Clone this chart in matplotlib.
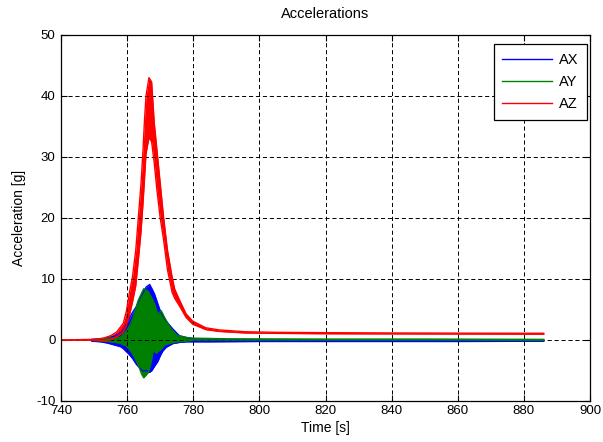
import matplotlib
matplotlib.use("Agg")
import matplotlib.pyplot as plt

plt.rcParams['font.family'] = ['Liberation Sans', 'DejaVu Sans']
plt.rcParams['lines.scale_dashes'] = False
plt.rcParams['axes.unicode_minus'] = False

# envelopes (min / max over the oscillation) of each acceleration channel
t_ax = [749.3, 752, 754, 756, 758, 758.8, 760.3, 761.6, 762.8, 763.8,
        764.8, 765.8, 766.8, 767.5, 768.3, 769.3, 770.0, 770.8, 771.8, 773.8,
        775.8, 778, 780, 785, 800, 830, 860, 886]
ax_hi = [0.1, 0.2, 0.3, 0.6, 1.1, 1.6, 3.1, 4.5, 5.5, 6.8,
         7.8, 8.7, 9.1, 8.4, 7.5, 5.9, 4.8, 4.0, 3.1, 1.8,
         0.7, 0.4, 0.2, 0.1, 0.0, -0.05, -0.05, -0.05]
ax_lo = [-0.2, -0.3, -0.5, -0.8, -1.1, -1.4, -2.2, -3.0, -4.0, -4.6,
         -5.1, -5.0, -5.3, -5.0, -4.3, -3.5, -2.6, -1.8, -1.2, -0.6,
         -0.4, -0.3, -0.3, -0.3, -0.25, -0.25, -0.25, -0.2]

t_ay = [750, 753, 755, 757.8, 759.8, 760.8, 761.8, 763.3, 764.3, 765.0,
        766.3, 766.8, 767.3, 767.8, 768.3, 768.8, 769.3, 770.3, 771.3, 773.3,
        775.3, 778, 780, 790, 820, 850, 886]
ay_hi = [0.1, 0.2, 0.3, 0.4, 1.5, 2.4, 3.7, 6.4, 7.6, 8.4,
         8.0, 7.5, 7.0, 6.5, 5.9, 5.0, 4.2, 4.8, 3.7, 1.8,
         0.7, 0.4, 0.3, 0.2, 0.15, 0.15, 0.1]
ay_lo = [-0.1, -0.2, -0.3, -0.5, -1.0, -1.6, -2.4, -4.0, -5.5, -6.2,
         -5.4, -4.6, -3.5, -2.0, -1.8, -2.2, -1.9, -1.5, -0.8, -0.5,
         -0.3, -0.2, 0.0, 0.0, 0.0, 0.0, -0.05]

t_az = [740, 750, 752.8, 755, 756.8, 758.8, 759.8, 760.8, 761.6, 762.6,
        763.4, 764.2, 764.8, 765.2, 765.7, 766.6, 767.4, 768.2, 769.0, 770.0,
        771.0, 772.2, 773.6, 774.4, 775.8, 777.8, 779.8, 783.8, 787.8, 795.8,
        805.8, 820, 840, 860, 886]
az_hi = [0, 0.1, 0.3, 0.7, 1.3, 2.7, 4.8, 8.1, 10.3, 14.7,
         20.2, 25.7, 31.2, 35.6, 40.0, 43.0, 42.3, 35.6, 31.2, 25.7,
         20.2, 14.7, 10.3, 8.3, 6.6, 4.3, 3.1, 2.0, 1.65, 1.35,
         1.25, 1.2, 1.15, 1.12, 1.1]
az_lo = [0, -0.05, -0.1, 0, 0.5, 1.3, 2.4, 4.3, 6.2, 8.9,
         13.2, 17.8, 22.5, 26.0, 30.5, 33.2, 32.5, 29.0, 24.6, 20.0,
         16.5, 11.5, 7.8, 6.8, 5.6, 3.7, 2.6, 1.7, 1.4, 1.15,
         1.08, 1.02, 1.0, 0.98, 0.95]

channels = [
    ("AX", t_ax, ax_lo, ax_hi, "#0000ff"),
    ("AY", t_ay, ay_lo, ay_hi, "#008000"),
    ("AZ", t_az, az_lo, az_hi, "#ff0000"),
]

x_ticks = [740, 760, 780, 800, 820, 840, 860, 880, 900]
y_ticks = [-10, 0, 10, 20, 30, 40, 50]

fig = plt.figure(figsize=(6.03, 4.42), dpi=100)
ax = fig.add_axes([0.1012, 0.0928, 0.8773, 0.8281])

for name, t, lo, hi, col in channels:
    ax.fill_between(t, lo, hi, color=col, linewidth=0)
    ax.plot(t, hi, color=col, linewidth=1.0, label=name)
    ax.plot(t, lo, color=col, linewidth=1.0)

ax.set_xlim(740, 900)
ax.set_ylim(-10, 50)
ax.set_xticks(x_ticks)
ax.set_yticks(y_ticks)
ax.grid(True, color='black', linestyle=(0, (3, 2)), linewidth=0.7)
ax.tick_params(direction='in', length=4, width=0.8, top=True, right=True,
               labelsize=9.5)
ax.tick_params(axis='x', pad=3)
ax.tick_params(axis='y', pad=4)
for s in ax.spines.values():
    s.set_linewidth(0.9)

ax.set_title('Accelerations', fontsize=10.5, pad=12)
ax.set_xlabel('Time [s]', fontsize=10, labelpad=3)
ax.set_ylabel('Acceleration [g]', fontsize=10, labelpad=7)

leg = ax.legend(loc='upper right', bbox_to_anchor=(0.994, 0.9754),
                borderaxespad=0, fancybox=False, framealpha=1,
                edgecolor='black', fontsize=10.5, handlelength=3.4,
                handletextpad=0.45, labelspacing=0.55, borderpad=0.6)
leg.get_frame().set_linewidth(0.9)
for line in leg.get_lines():
    line.set_linewidth(1.0)

fig.savefig('out.png', dpi=100)
